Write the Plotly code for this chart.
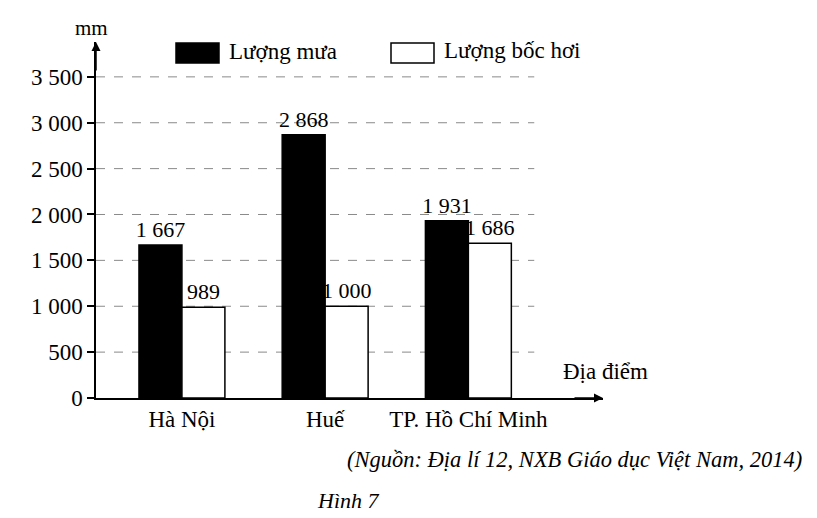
import plotly.graph_objects as go

# Lượng mưa và lượng bốc hơi (mm) tại ba địa điểm
places = ["Hà Nội", "Huế", "TP. Hồ Chí Minh"]
rainfall = [1667, 2868, 1931]
evaporation = [989, 1000, 1686]
y_ticks = [0, 500, 1000, 1500, 2000, 2500, 3000, 3500]

SERIF = "Liberation Serif"
x_idx = list(range(len(places)))

fig = go.Figure()
fig.add_trace(go.Bar(
    x=x_idx, y=rainfall, name="Lượng mưa",
    marker=dict(color="black", line=dict(color="black", width=1.5)),
    texttemplate="%{y:,}", textposition="outside", constraintext="none",
    textfont=dict(family=SERIF, size=22, color="black"),
    cliponaxis=False, showlegend=False,
))
fig.add_trace(go.Bar(
    x=x_idx, y=evaporation, name="Lượng bốc hơi",
    marker=dict(color="white", line=dict(color="black", width=1.5)),
    texttemplate="%{y:,}", textposition="outside", constraintext="none",
    textfont=dict(family=SERIF, size=22, color="black"),
    cliponaxis=False, showlegend=False,
))

x_left, x_right = -0.6, 2.94
grid_end = 2.46

# plot area in pixels, used to place the hand-made legend and captions
L, T, W, H = 96, 42, 507, 356


def px(x):
    return (x - L) / W


def py(y):
    return (T + H - y) / H


# dashed horizontal guide lines
shapes = []
for v in y_ticks[1:]:
    shapes.append(dict(type="line", xref="x", yref="y", x0=x_left, x1=grid_end,
                       y0=v, y1=v, layer="below",
                       line=dict(color="#8a8a8a", width=1, dash="dash")))

# legend boxes
shapes.append(dict(type="rect", xref="paper", yref="paper",
                   x0=px(176), x1=px(219), y0=py(63), y1=py(43),
                   fillcolor="black", line=dict(color="black", width=1.5)))
shapes.append(dict(type="rect", xref="paper", yref="paper",
                   x0=px(391), x1=px(434), y0=py(63), y1=py(43),
                   fillcolor="white", line=dict(color="black", width=1.5)))

annotations = [
    dict(text="Lượng mưa", xref="paper", yref="paper",
         x=px(227), y=py(52), xanchor="left", yanchor="middle",
         showarrow=False, font=dict(family=SERIF, size=23, color="black")),
    dict(text="Lượng bốc hơi", xref="paper", yref="paper",
         x=px(442), y=py(50), xanchor="left", yanchor="middle",
         showarrow=False, font=dict(family=SERIF, size=23, color="black")),
    dict(text="mm", xref="paper", yref="paper",
         x=px(91), y=py(28), xanchor="center", yanchor="middle",
         showarrow=False, font=dict(family=SERIF, size=21, color="black")),
    dict(text="Địa điểm", xref="paper", yref="paper",
         x=px(605), y=py(371), xanchor="center", yanchor="middle",
         showarrow=False, font=dict(family=SERIF, size=23, color="black")),
    dict(text="<i>(Nguồn: Địa lí 12, NXB Giáo dục Việt Nam, 2014)</i>",
         xref="paper", yref="paper", x=px(804), y=py(459),
         xanchor="right", yanchor="middle", showarrow=False,
         font=dict(family=SERIF, size=22.5, color="black")),
    dict(text="<i>Hình 7</i>", xref="paper", yref="paper",
         x=px(315), y=py(500), xanchor="left", yanchor="middle",
         showarrow=False, font=dict(family=SERIF, size=22, color="black")),
    # axis arrowheads
    dict(x=0, y=1, xref="paper", yref="paper", ax=0, ay=30,
         showarrow=True, arrowhead=2, arrowsize=1.2, arrowwidth=1.5, arrowcolor="black", text=""),
    dict(x=1, y=0, xref="paper", yref="paper", ax=-30, ay=0,
         showarrow=True, arrowhead=2, arrowsize=1.2, arrowwidth=1.5, arrowcolor="black", text=""),
]

fig.update_layout(
    width=817, height=518,
    margin=dict(l=L, r=817 - L - W, t=T, b=518 - T - H),
    paper_bgcolor="white", plot_bgcolor="white",
    barmode="group", bargap=0.4, bargroupgap=0,
    separators=", ",
    font=dict(family=SERIF, size=23, color="black"),
    shapes=shapes, annotations=annotations,
    xaxis=dict(range=[x_left, x_right], tickmode="array", tickvals=x_idx,
               ticktext=places, showgrid=False, zeroline=False,
               showline=True, linecolor="black", linewidth=1.5,
               ticks="", tickfont=dict(family=SERIF, size=23, color="black")),
    yaxis=dict(range=[0, 3880], tickmode="array", tickvals=y_ticks,
               tickformat=",", showgrid=False, zeroline=False,
               showline=True, linecolor="black", linewidth=1.5,
               ticks="outside", ticklen=7, tickcolor="black", tickwidth=1.5,
               tickfont=dict(family=SERIF, size=23, color="black")),
)

fig.write_html("out.html")
